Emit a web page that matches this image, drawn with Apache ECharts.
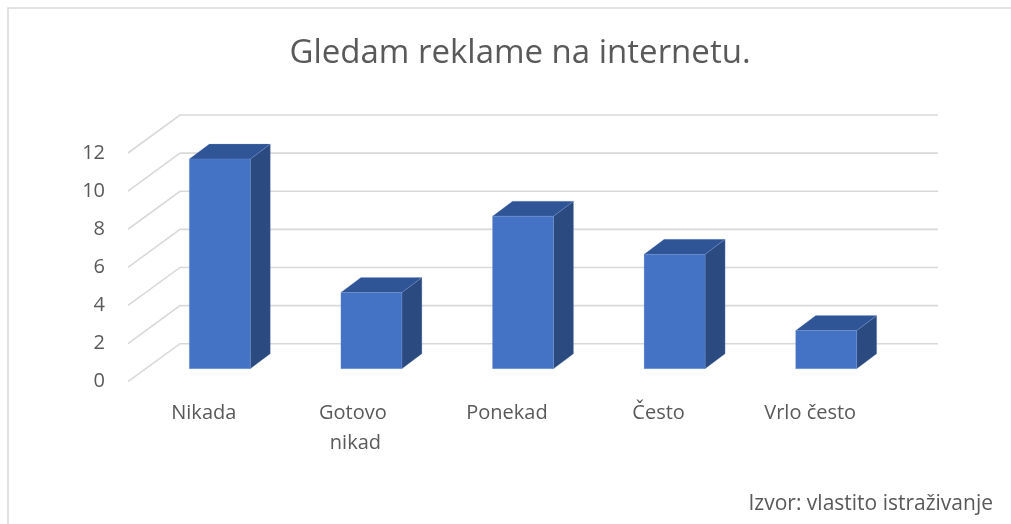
<!DOCTYPE html>
<html>
<head>
<meta charset="utf-8">
<script src="https://cdn.jsdelivr.net/npm/echarts@6/dist/echarts.min.js"></script>
<style>
html,body{margin:0;padding:0;background:#fff;}
#c{width:1011px;height:524px;}
</style>
</head>
<body>
<div id="c"></div>
<script>
const title = 'Gledam reklame na internetu.';
const source = 'Izvor: vlastito istraživanje';
const categories = ['Nikada', 'Gotovo nikad', 'Ponekad', 'Često', 'Vrlo često'];
const values = [11, 4, 8, 6, 2];
const yTicks = [0, 2, 4, 6, 8, 10, 12];

const FONT = '"Open Sans"';
const TXT = '#595959';
// 3D depth settings (style)
const WALL_DX = 52, WALL_DY = -38;     // floor / wall depth
const BAR_OFF_X = 16, BAR_OFF_Y = -13; // bar front face offset into depth
const BAR_DX = 20, BAR_DY = -15;       // bar depth
const BAR_HALF = 30.5;

const chart = echarts.init(document.getElementById('c'), null, {renderer: 'canvas'});

chart.setOption({
  backgroundColor: '#fff',
  animation: false,
  graphic: [
    {type: 'rect', shape: {x: 8, y: 8, width: 1100, height: 600},
     style: {fill: 'none', stroke: '#D9D9D9', lineWidth: 1.5}, z: -10},
    {type: 'text', x: 520, y: 54,
     style: {text: title, font: '33px ' + FONT, fill: TXT, textAlign: 'center', textVerticalAlign: 'middle'}},
    {type: 'text', x: 993, y: 504,
     style: {text: source, font: '21px ' + FONT, fill: TXT, textAlign: 'right', textVerticalAlign: 'middle'}}
  ],
  grid: {left: 128, right: 125, top: 153, bottom: 142.3},
  xAxis: {
    type: 'category', data: categories,
    axisLine: {show: false}, axisTick: {show: false},
    axisLabel: {color: TXT, fontFamily: 'Open Sans', fontSize: 20, margin: 17, lineHeight: 30,
      width: 114, overflow: 'break', interval: 0}
  },
  yAxis: {
    type: 'value', min: 0, max: 12, interval: 2,
    axisLine: {show: false}, axisTick: {show: false}, splitLine: {show: false},
    axisLabel: {color: TXT, fontFamily: 'Open Sans', fontSize: 20, margin: 23}
  },
  series: [
    {
      type: 'custom', z: 1, silent: true,
      data: yTicks.map(v => [0, v]),
      renderItem: function (params, api) {
        const cs = params.coordSys;
        const p = api.coord([0, api.value(1)]);
        const y = p[1];
        const x0 = cs.x, x1 = cs.x + cs.width;
        return {
          type: 'polyline',
          shape: {points: [[x0, y], [x0 + WALL_DX, y + WALL_DY], [x1 + WALL_DX, y + WALL_DY]]},
          style: {stroke: '#D9D9D9', lineWidth: 1.6, fill: null}
        };
      }
    },
    {
      type: 'custom', z: 5,
      data: values.map((v, i) => [i, v]),
      renderItem: function (params, api) {
        const top = api.coord([api.value(0), api.value(1)]);
        const bot = api.coord([api.value(0), 0]);
        const cx = top[0] + BAR_OFF_X;
        const yt = top[1] + BAR_OFF_Y, yb = bot[1] + BAR_OFF_Y;
        const xl = cx - BAR_HALF, xr = cx + BAR_HALF;
        const edge = 'rgba(120,150,210,0.5)';
        return {
          type: 'group',
          children: [
            {type: 'polygon', shape: {points: [[xr, yt], [xr + BAR_DX, yt + BAR_DY], [xr + BAR_DX, yb + BAR_DY], [xr, yb]]},
             style: {fill: '#2A4A80', stroke: edge, lineWidth: 0.5}},
            {type: 'polygon', shape: {points: [[xl, yt], [xl + BAR_DX, yt + BAR_DY], [xr + BAR_DX, yt + BAR_DY], [xr, yt]]},
             style: {fill: '#2F5597', stroke: edge, lineWidth: 0.5}},
            {type: 'rect', shape: {x: xl, y: yt, width: xr - xl, height: yb - yt},
             style: {fill: '#4472C4', stroke: edge, lineWidth: 0.5}}
          ]
        };
      }
    }
  ]
});
</script>
</body>
</html>
